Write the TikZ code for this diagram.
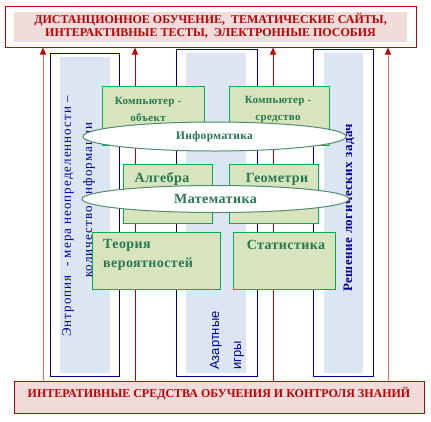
\documentclass[tikz,border=0pt]{standalone}
\usepackage{fontspec}
\setmainfont{Liberation Serif}
\setsansfont{Liberation Sans}
\usetikzlibrary{arrows.meta,positioning,shapes.geometric}
\definecolor{bordred}{RGB}{192,0,0}
\definecolor{softpink}{RGB}{242,220,219}
\definecolor{lightred}{RGB}{226,110,110}
\definecolor{colblue}{RGB}{0,0,150}
\definecolor{colfillblue}{RGB}{220,230,242}
\definecolor{boxgreen}{RGB}{0,176,80}
\definecolor{boxfill}{RGB}{215,228,189}
\definecolor{txtgreen}{RGB}{40,120,80}
\definecolor{ellgreen}{RGB}{80,140,110}

\begin{document}
\begin{tikzpicture}[x=1pt,y=-1pt,
  colbox/.style={draw=colblue,line width=1pt,fill=white,inner sep=0pt},
  colfill/.style={fill=colfillblue,inner sep=0pt},
  vtxt/.style={text=colblue,rotate=90,anchor=west,inner sep=0pt,font=\fontsize{13}{15}\selectfont\addfontfeature{LetterSpace=8}},
  gbox/.style={draw=boxgreen,line width=1pt,fill=boxfill,inner sep=0pt},
  glbl/.style={text=txtgreen,inner sep=0pt,font=\bfseries\fontsize{14}{19}\selectfont\addfontfeature{LetterSpace=3}},
  ell/.style={ellipse,draw=ellgreen,line width=1pt,fill=white,inner sep=0pt,text=txtgreen},
  redbox/.style={draw=bordred,line width=1pt,inner sep=0pt},
  redtxt/.style={text=bordred,align=center,font=\bfseries\fontsize{12}{13}\selectfont},
  arr/.style={-{Triangle[width=6pt,length=7pt,color=bordred]},line width=1pt}]
\useasboundingbox (0,0) rectangle (431,421);

% columns
\node[colbox,minimum width=69,minimum height=323] (c1) at (84.5,214.5) {};
\node[colfill,minimum width=50,minimum height=316] (f1) at (85,215) {};
\node[colbox,minimum width=81,minimum height=327] (c2) at (216.5,212.5) {};
\node[colfill,minimum width=60,minimum height=320] (f2) at (216,213) {};
\node[colbox,minimum width=60,minimum height=327] (c3) at (343,212.5) {};
\node[colfill,minimum width=39,minimum height=320] (f3) at (343.5,213) {};

\node[vtxt] (entr) at (68,337) {Энтропия\ \ - мера неопределенности –};
\node[vtxt] (kol) at (89,278) {количество информации};
\node[vtxt,font=\sffamily\fontsize{13}{15}\selectfont] (az) at (216,370) {Азартные};
\node[vtxt,font=\sffamily\fontsize{13}{15}\selectfont] (igr) at (239,370) {игры};
\node[vtxt,font=\bfseries\fontsize{13}{15}\selectfont\addfontfeature{LetterSpace=4}] (resh) at (349,292) {Решение логических задач};

% top and bottom
\node[redbox,fill=white,minimum width=411,minimum height=41] (top) at (210.5,26.5) {};
\node[fill=softpink,inner sep=0pt,minimum width=393,minimum height=30] (topin) at (210.5,27) {};
\node[redtxt] (toptxt) at (210.5,25.5) {ДИСТАНЦИОННОЕ ОБУЧЕНИЕ,\ \ ТЕМАТИЧЕСКИЕ САЙТЫ,\\ИНТЕРАКТИВНЫЕ ТЕСТЫ,\ \ ЭЛЕКТРОННЫЕ ПОСОБИЯ};
\node[redbox,fill=softpink,minimum width=410,minimum height=32] (bot) at (219,397) {};
\node[redtxt] (bottxt) at (219,394) {ИНТЕРАТИВНЫЕ СРЕДСТВА ОБУЧЕНИЯ И КОНТРОЛЯ ЗНАНИЙ};

% arrows
\coordinate (a1) at (43,0);
\coordinate (a2) at (135,0);
\coordinate (a3) at (273,0);
\coordinate (a4) at (388,0);
\draw[arr,draw=lightred] (bot.north -| a1) -- (top.south -| a1);
\draw[arr,draw=bordred] (bot.north -| a2) -- (top.south -| a2);
\draw[arr,draw=bordred] (bot.north -| a3) -- (top.south -| a3);
\draw[arr,draw=lightred] (bot.north -| a4) -- (top.south -| a4);

% green boxes
\node[gbox,minimum width=102,minimum height=59] (k1) at (153,115.5) {};
\node[gbox,minimum width=100,minimum height=59] (k2) at (279,115.5) {};
\node[glbl,align=center,font=\bfseries\fontsize{11}{17}\selectfont\addfontfeature{LetterSpace=3}] (k1t) at (148,109.5) {Компьютер -\\объект};
\node[glbl,align=center,font=\bfseries\fontsize{11}{17}\selectfont\addfontfeature{LetterSpace=3}] (k2t) at (278,109.5) {Компьютер -\\средство};
\node[gbox,minimum width=89,minimum height=59] (alg) at (167.5,193.5) {};
\node[gbox,minimum width=89,minimum height=59] (geo) at (273.5,193.5) {};
\node[glbl] (algt) at (162,179) {Алгебра};
\node[glbl] (geot) at (277,179) {Геометри};
\node[gbox,minimum width=128,minimum height=57] (ter) at (156,260.5) {};
\node[gbox,minimum width=102,minimum height=57] (sta) at (284,260.5) {};
\node[glbl,align=left,anchor=west] (tert) at (103,254.5) {Теория\\вероятностей};
\node[glbl] (stat) at (286,245) {Статистика};

% ellipses
\node[ell,minimum width=263,minimum height=29,font=\bfseries\fontsize{11.5}{13}\selectfont\addfontfeature{LetterSpace=3}] (inf) at (214.5,136.5) {Информатика};
\node[ell,minimum width=267,minimum height=27,font=\bfseries\fontsize{14}{16}\selectfont\addfontfeature{LetterSpace=3}] (mat) at (215.5,199) {Математика};
\end{tikzpicture}
\end{document}
